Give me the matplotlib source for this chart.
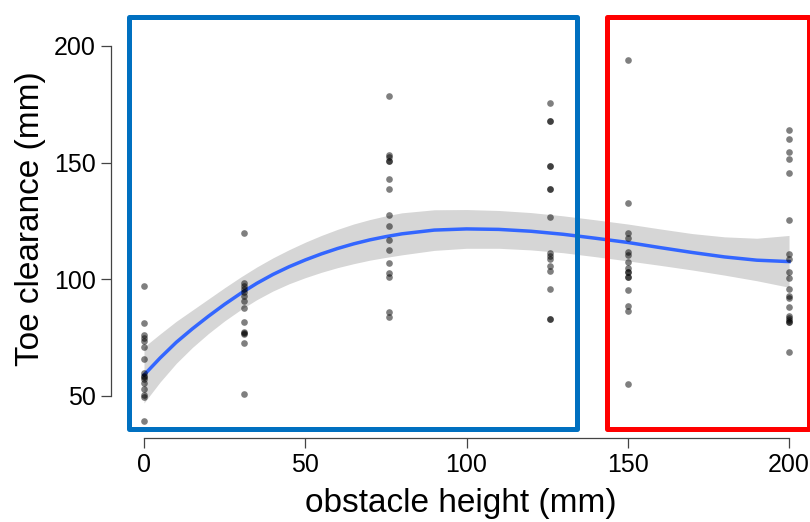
import numpy as np
import matplotlib
matplotlib.use("Agg")
import matplotlib.pyplot as plt
from matplotlib.patches import Rectangle

plt.rcParams['font.family'] = ['Liberation Sans', 'DejaVu Sans']

# observed toe clearance (mm) per obstacle height (mm)
h0 = [97.1, 81.2, 76.1, 75.0, 73.7, 70.9, 65.7, 60.0, 58.6, 58.0, 57.2, 55.4, 53.1, 50.3, 49.7, 39.4]
h31 = [120.0, 98.3, 97.3, 95.9, 94.7, 92.9, 90.7, 87.8, 81.8, 77.6, 77.1, 76.6, 72.6, 50.9]
h76 = [178.7, 153.3, 152.3, 150.9, 150.9, 142.9, 138.7, 127.7, 122.9, 116.9, 112.6, 106.9, 102.9, 100.9, 85.9, 84.0]
h126 = [175.7, 167.9, 167.9, 148.7, 148.7, 138.7, 138.7, 126.6, 111.2, 110.0, 108.6, 105.8, 103.6, 95.7, 82.9, 82.9]
h150 = [194.0, 132.6, 119.7, 117.6, 111.8, 110.4, 107.6, 104.7, 103.0, 103.0, 101.1, 101.1, 95.4, 88.6, 86.6, 55.1]
h200 = [164.0, 160.0, 154.4, 151.4, 145.7, 125.4, 110.7, 108.6, 103.0, 100.4, 95.9, 93.0, 92.1, 88.3,
        84.4, 83.6, 82.6, 81.7, 81.7, 68.9]
heights = [0, 31, 76, 126, 150, 200]
groups = [h0, h31, h76, h126, h150, h200]

# smoothed trend + confidence band
fit_x = [0, 5, 10, 15, 20, 25, 30, 35, 40, 45, 50, 55, 60, 65, 70, 75, 80, 90, 100,
         110, 120, 130, 140, 150, 160, 170, 180, 190, 200]
fit_y = [59, 66.3, 73, 78.8, 84.2, 89.3, 94, 98.3, 102.1, 105.4, 108.3, 110.9, 113.2, 115.2, 116.9,
         118.3, 119.5, 121.1, 121.6, 121.4, 120.6, 119.3, 117.6, 115.8, 113.6, 111.5, 109.6, 108.2, 107.6]
fit_lo = [47, 56.0, 64, 70.8, 76.8, 82.2, 87, 91.3, 95.0, 98.1, 100.7, 103.0, 105.0, 106.7, 108.2,
          109.4, 110.5, 112.4, 113.3, 113.3, 112.6, 111.4, 109.7, 107.9, 106.0, 104.0, 101.8, 99.4, 96.6]
fit_hi = [71, 76.6, 82, 86.8, 91.6, 96.4, 101, 105.3, 109.2, 112.7, 115.9, 118.8, 121.4, 123.7, 125.6,
          127.2, 128.5, 129.8, 129.9, 129.5, 128.6, 127.2, 125.5, 123.7, 121.6, 119.6, 118.2, 117.6, 118.8]

W, H = 810, 522
fig = plt.figure(figsize=(W / 100, H / 100), dpi=100)
ax = fig.add_axes([111 / W, (H - 438) / H, (W - 111) / W, 438 / H])

ax.fill_between(fit_x, fit_lo, fit_hi, color='#d6d6d6', lw=0, zorder=1)
ax.plot(fit_x, fit_y, color='#3366FF', lw=2.5, zorder=2, solid_joinstyle='round')
for hx, vals in zip(heights, groups):
    ax.scatter([hx] * len(vals), vals, s=23, color='black', alpha=0.5, lw=0, zorder=3)

ax.set_xlim(-10.23, 206.5)
ax.set_ylim(32.0, 219.7)
ax.set_xticks([0, 50, 100, 150, 200])
ax.set_yticks([50, 100, 150, 200])
for s in ['top', 'right']:
    ax.spines[s].set_visible(False)
ax.spines['left'].set_bounds(50, 200)
ax.spines['bottom'].set_bounds(0, 200)
for s in ['left', 'bottom']:
    ax.spines[s].set_color('#444444')
    ax.spines[s].set_linewidth(0.9)
ax.tick_params(length=7, width=0.9, color='#444444', labelsize=18, pad=4)
ax.set_xlabel('obstacle height (mm)', fontsize=24, labelpad=8)
ax.set_ylabel('Toe clearance (mm)', fontsize=24, labelpad=6)
ax.patch.set_visible(False)

# highlight boxes
fig.add_artist(Rectangle((128.5 / W, (H - 429) / H), 448 / W, 411.5 / H, transform=fig.transFigure,
                         fill=False, edgecolor='#0070C0', lw=3.6, joinstyle='round'))
fig.add_artist(Rectangle((606.5 / W, (H - 429) / H), 202.5 / W, 411.5 / H, transform=fig.transFigure,
                         fill=False, edgecolor='#FF0000', lw=3.6, joinstyle='round'))

fig.savefig('out.png', dpi=100)
